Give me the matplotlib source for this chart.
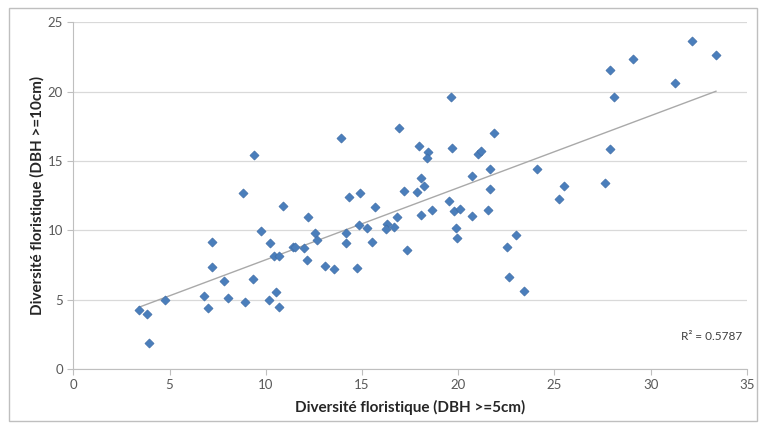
import numpy as np
import matplotlib
matplotlib.use("Agg")
import matplotlib.pyplot as plt
from matplotlib.patches import Rectangle

plt.rcParams["font.family"] = ["Lato", "DejaVu Sans"]

# floristic diversity per plot: stems DBH >= 5cm vs stems DBH >= 10cm
dbh5 = [3.41, 3.81, 3.91, 4.75, 6.81, 7.01, 7.21, 7.21, 7.81, 8.05,
        8.84, 8.94, 9.32, 9.39, 9.77, 10.24, 10.17, 10.41, 10.67, 10.51,
        10.70, 10.88, 11.40, 11.53, 12.00, 12.21, 12.14, 12.56, 12.68, 13.09,
        13.54, 13.92, 14.31, 14.91, 14.15, 14.15, 14.72, 14.84, 15.24, 15.69,
        15.50, 16.28, 16.24, 16.64, 16.83, 16.92, 17.16, 17.34, 17.87, 17.94,
        18.06, 18.06, 18.20, 18.43, 18.36, 18.62, 19.50, 19.61, 19.66, 19.79,
        20.07, 19.87, 19.94, 20.70, 20.73, 21.01, 21.18, 21.53, 21.66, 21.66,
        21.84, 22.53, 22.65, 23.00, 23.44, 24.07, 25.25, 25.49, 27.60, 27.86,
        27.88, 28.10, 29.08, 31.26, 32.16, 33.39]
dbh10 = [4.25, 3.94, 1.85, 4.95, 5.26, 4.42, 9.18, 7.38, 6.37, 5.12,
         12.71, 4.85, 6.49, 15.41, 9.97, 9.11, 4.95, 8.15, 8.15, 5.53,
         4.49, 11.77, 8.82, 8.82, 8.70, 10.96, 7.86, 9.78, 9.30, 7.43,
         7.23, 16.63, 12.38, 12.69, 9.78, 9.08, 7.28, 10.36, 10.14, 11.68,
         9.16, 10.48, 10.12, 10.22, 10.96, 17.40, 12.81, 8.60, 12.78, 16.08,
         11.13, 13.79, 13.19, 15.65, 15.21, 11.49, 12.11, 19.63, 15.96, 11.41,
         11.54, 10.17, 9.44, 13.92, 11.03, 15.50, 15.72, 11.49, 12.98, 14.44,
         17.02, 8.77, 6.63, 9.66, 5.62, 14.39, 12.23, 13.22, 13.39, 15.84,
         21.53, 19.59, 22.37, 20.62, 23.67, 22.61]
r2_label = "R² = 0.5787"

x = np.array(dbh5)
y = np.array(dbh10)
slope, intercept = np.polyfit(x, y, 1)
x_fit = np.array([x.min(), x.max()])

fig = plt.figure(figsize=(7.59, 4.28), dpi=100)
ax = fig.add_axes([0.0966, 0.138, 0.8875, 0.81])

ax.scatter(x, y, marker="D", s=22, color="#4a7ebb", edgecolors="#3d6aa3",
           linewidths=0.4, zorder=3)
ax.plot(x_fit, slope * x_fit + intercept, color="#a9a9a9", lw=1.0, zorder=2)

ax.set_xlim(0, 35)
ax.set_ylim(0, 25)
ax.set_xticks(range(0, 36, 5))
ax.set_yticks(range(0, 26, 5))
ax.grid(axis="y", color="#d9d9d9", lw=0.9)
ax.set_axisbelow(True)

for side in ("top", "right"):
    ax.spines[side].set_visible(False)
for side in ("left", "bottom"):
    ax.spines[side].set_color("#bfbfbf")
ax.tick_params(colors="#bfbfbf", labelcolor="#595959", labelsize=9.5,
               length=4, width=0.8)

ax.set_xlabel("Diversité floristique (DBH >=5cm)", fontsize=11,
              fontweight="bold", color="#262626", labelpad=6)
ax.set_ylabel("Diversité floristique (DBH >=10cm)", fontsize=11,
              fontweight="bold", color="#262626", labelpad=2)

ax.text(34.74, 2.33, r2_label, ha="right", va="center", fontsize=8.5,
        color="#404040")

# outer chart frame
fig.patches.append(Rectangle((9 / 759, 1 - 421 / 428), 748 / 759, 413 / 428,
                             transform=fig.transFigure, fill=False,
                             edgecolor="#bfbfbf", lw=1.0))

fig.savefig("out.png", dpi=100)
